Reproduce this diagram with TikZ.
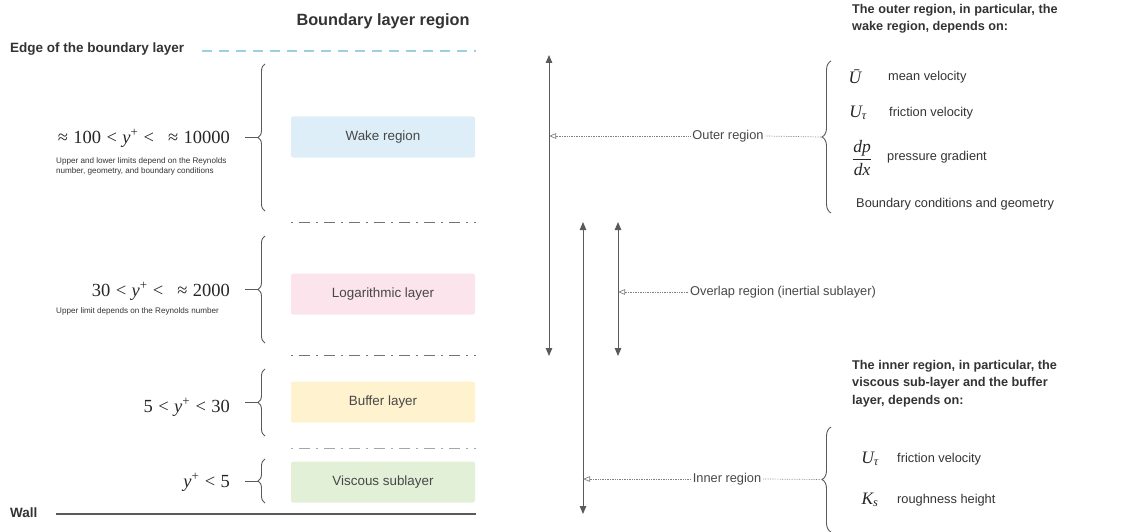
\documentclass[tikz,border=0pt]{standalone}
\usepackage{fontspec}
\setmainfont{Liberation Sans}
\newfontfamily\tmsfont{Liberation Serif}
\usetikzlibrary{arrows.meta,decorations.pathreplacing}
\definecolor{wakec}{HTML}{DEEEF8}
\definecolor{logc}{HTML}{FCE4EC}
\definecolor{bufc}{HTML}{FFF2CE}
\definecolor{visc}{HTML}{E3F0D8}
\definecolor{edgec}{HTML}{9CCFE6}
\definecolor{txt}{HTML}{333333}
\definecolor{arr}{HTML}{5A5A5A}
\newcommand{\ypl}{\textit{y}\textsuperscript{+}}
\newcommand{\rsp}{\hspace{0.29em}}
\begin{document}
\begin{tikzpicture}[x=1pt,y=-1pt,
  heading/.style={font=\fontsize{12.7}{17.5}\selectfont\bfseries, text=txt, align=left, inner sep=0, anchor=north west},
  lefttitle/.style={font=\fontsize{13.5}{15}\selectfont\bfseries, text=txt, inner sep=0},
  layerbox/.style={rounded corners=2pt, minimum width=184pt, minimum height=41pt, inner sep=0, font=\fontsize{13.4}{15}\selectfont, text=txt!90},
  rangetext/.style={anchor=base east, inner sep=0, font=\fontsize{18.5}{20}\selectfont\tmsfont, text=black!85},
  notetext/.style={anchor=north west, inner sep=0, align=left, font=\fontsize{8.1}{10.8}\selectfont, text=txt},
  lbrace/.style={decorate, decoration={brace, amplitude=7pt}, draw=arr, line width=0.9pt},
  rbrace/.style={decorate, decoration={brace, amplitude=9pt}, draw=arr, line width=0.9pt},
  dashdot/.style={draw=black!55, line width=0.9pt, dash pattern=on 2pt off 6pt on 11pt off 6pt},
  dblarrow/.style={draw=arr, line width=1pt, {Triangle[length=8pt,width=6.5pt]}-{Triangle[length=8pt,width=6.5pt]}},
  linkline/.style={draw=black!50, line width=0.7pt, densely dotted},
  openhead/.style={-{Triangle[open,length=7pt,width=5.5pt]}},
  regionlbl/.style={inner sep=2pt, font=\fontsize{12.8}{15}\selectfont, text=txt!90},
  itemtext/.style={anchor=west, inner sep=0, font=\fontsize{12.8}{15}\selectfont, text=txt},
  symtext/.style={anchor=center, inner sep=0, font=\fontsize{17.5}{19}\selectfont\tmsfont\itshape, text=black!85}
]
\useasboundingbox (0,0) rectangle (1134,532);

% title
\node[font=\fontsize{16.3}{18}\selectfont\bfseries, text=txt, inner sep=0] (title) at (383,21) {Boundary layer region};

% edge and wall
\node[lefttitle, anchor=west] (edge) at (10,49) {Edge of the boundary layer};
\coordinate (edgeA) at (202,51);
\coordinate (edgeB) at (476,51);
\draw[edgec, line width=1.3pt, dash pattern=on 10pt off 7pt] (edgeA) -- (edgeB);
\node[lefttitle, anchor=west] (wall) at (10,513) {Wall};
\coordinate (wallA) at (56,514);
\coordinate (wallB) at (476,514);
\draw[arr, line width=1.1pt] (wallA) -- (wallB);

% dash-dot separators
\coordinate (s1a) at (291,222); \coordinate (s1b) at (476,222);
\coordinate (s2a) at (291,355); \coordinate (s2b) at (476,355);
\coordinate (s3a) at (291,448); \coordinate (s3b) at (476,448);
\draw[dashdot] (s1a) -- (s1b);
\draw[dashdot] (s2a) -- (s2b);
\draw[dashdot, draw=black!35] (s3a) -- (s3b);

% layer boxes
\node[layerbox, fill=wakec] (wake) at (383,137) {Wake region};
\node[layerbox, fill=logc] (log) at (383,294) {Logarithmic layer};
\node[layerbox, fill=bufc] (buf) at (383,402) {Buffer layer};
\node[layerbox, fill=visc] (visc) at (383,482) {Viscous sublayer};

% left braces
\coordinate (b1t) at (265,64);  \coordinate (b1b) at (265,211);
\coordinate (b2t) at (265,236); \coordinate (b2b) at (265,343);
\coordinate (b3t) at (265,369); \coordinate (b3b) at (265,436);
\coordinate (b4t) at (265,459); \coordinate (b4b) at (265,503);
\draw[lbrace] (b1b) -- (b1t);
\draw[lbrace] (b2b) -- (b2t);
\draw[lbrace] (b3b) -- (b3t);
\draw[lbrace] (b4b) -- (b4t);
\coordinate (t1) at (258,137.5); \coordinate (t1e) at (245,137.5);
\coordinate (t2) at (258,289.5); \coordinate (t2e) at (245,289.5);
\coordinate (t3) at (258,402.5); \coordinate (t3e) at (245,402.5);
\coordinate (t4) at (258,481); \coordinate (t4e) at (245,481);
\draw[arr, line width=0.9pt] (t1) -- (t1e);
\draw[arr, line width=0.9pt] (t2) -- (t2e);
\draw[arr, line width=0.9pt] (t3) -- (t3e);
\draw[arr, line width=0.9pt] (t4) -- (t4e);

% ranges
\node[rangetext] (r1) at (230,143) {≈\rsp100\rsp<\rsp\ypl\rsp<\hspace{0.75em}≈\rsp10000};
\node[notetext] (n1) at (56,157) {Upper and lower limits depend on the Reynolds\\number, geometry, and boundary conditions};
\node[rangetext] (r2) at (230,296) {30\rsp<\rsp\ypl\rsp<\hspace{0.75em}≈\rsp2000};
\node[notetext] (n2) at (56,307) {Upper limit depends on the Reynolds number};
\node[rangetext] (r3) at (230,412) {5\rsp<\rsp\ypl\rsp<\rsp30};
\node[rangetext] (r4) at (230,487) {\ypl\rsp<\rsp5};

% vertical arrows
\coordinate (oTop) at (549,55);  \coordinate (oBot) at (549,356);
\coordinate (iTop) at (583,222); \coordinate (iBot) at (583,514);
\coordinate (vTop) at (618,222); \coordinate (vBot) at (618,356);
\draw[dblarrow] (oTop) -- (oBot);
\draw[dblarrow] (iTop) -- (iBot);
\draw[dblarrow] (vTop) -- (vBot);

% region labels
\node[regionlbl] (outer) at (728,136) {Outer region};
\node[regionlbl, anchor=west] (overlap) at (688,292) {Overlap region (inertial sublayer)};
\node[regionlbl] (inner) at (727,479) {Inner region};
\coordinate (oHit) at (549,136);
\coordinate (vHit) at (618,292);
\coordinate (iHit) at (583,479);

% right braces
\coordinate (rb1t) at (831,61);  \coordinate (rb1b) at (831,213);
\coordinate (rb2t) at (831,427); \coordinate (rb2b) at (831,532);
\draw[rbrace] (rb1b) -- (rb1t);
\draw[rbrace] (rb2b) -- (rb2t);
\coordinate (rb1tip) at (821,137);
\coordinate (rb2tip) at (821,479.5);

\draw[linkline, openhead] (outer.west) -- (oHit);
\draw[linkline] (outer.east) -- (rb1tip);
\draw[linkline, openhead] (overlap.west) -- (vHit);
\draw[linkline, openhead] (inner.west) -- (iHit);
\draw[linkline] (inner.east) -- (rb2tip);

% right headings
\node[heading] (h1) at (852,4) {The outer region, in particular, the\\wake region, depends on:};
\node[heading] (h2) at (852,360) {The inner region, in particular, the\\viscous sub-layer and the buffer\\layer, depends on:};

% outer items
\node[symtext] (s1) at (855,77) {Ū};
\node[itemtext] (i1) at (888,77) {mean velocity};
\node[symtext] (s2) at (858,113) {U\textsubscript{τ}};
\node[itemtext] (i2) at (889,113) {friction velocity};
\node[symtext] (s3) at (862,158) {$\displaystyle\frac{\hbox{dp}}{\hbox{dx}}$};
\node[itemtext] (i3) at (887,157) {pressure gradient};
\node[itemtext] (i4) at (856,204) {Boundary conditions and geometry};

% inner items
\node[symtext] (s5) at (870,459) {U\textsubscript{τ}};
\node[itemtext] (i5) at (897,459) {friction velocity};
\node[symtext] (s6) at (870,500) {K\textsubscript{s}};
\node[itemtext] (i6) at (897,500) {roughness height};
\end{tikzpicture}
\end{document}
